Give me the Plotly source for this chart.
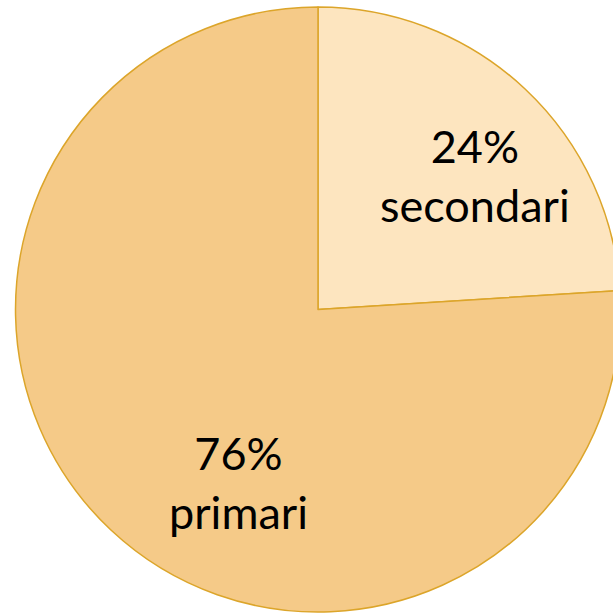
import plotly.graph_objects as go

labels = ["secondari", "primari"]
values = [24, 76]
colors = ["#FDE5BF", "#F5CA88"]

W, H = 640, 613
cx, cy, r = 318, 309.5, 302.5

fig = go.Figure(go.Pie(
    labels=labels,
    values=values,
    sort=False,
    direction="clockwise",
    rotation=0,
    marker=dict(colors=colors, line=dict(color="#DCA52A", width=1.5)),
    textinfo="none",
    showlegend=False,
    hoverinfo="skip",
    domain=dict(x=[(cx - r) / W, (cx + r) / W], y=[(H - cy - r) / H, (H - cy + r) / H]),
))

# label block centres (px from top-left)
label_pos = [(475, 176), (238, 482)]
total = sum(values)
for lab, v, (px, py) in zip(labels, values, label_pos):
    fig.add_annotation(
        x=px / W, y=1 - py / H, xref="paper", yref="paper",
        xanchor="center", yanchor="middle",
        text=f"{round(100 * v / total)}%<br>{lab}",
        showarrow=False,
        font=dict(family="Lato", size=45, color="#000000"),
    )

fig.update_layout(
    width=W, height=H,
    margin=dict(l=0, r=0, t=0, b=0),
    paper_bgcolor="white",
)

fig.write_html("out.html", config={"displayModeBar": False},
               post_script="document.body.style.overflow='hidden';document.body.style.margin='0';")
